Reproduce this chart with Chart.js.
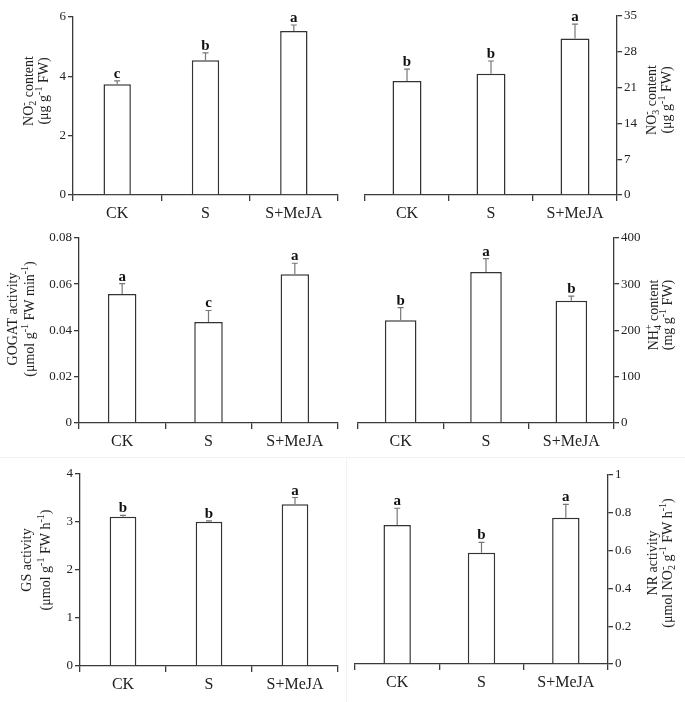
<!DOCTYPE html>
<html><head><meta charset="utf-8">
<script src="https://cdn.jsdelivr.net/npm/chart.js@4/dist/chart.umd.min.js"></script>
<style>
html,body{margin:0;padding:0;background:#fff;}
#wrap{position:relative;width:685px;height:702px;overflow:hidden;background:#fff;}
.p{position:absolute;}
.sep{position:absolute;background:#f3f3f3;}
</style></head><body>
<div id="wrap">
  <div class="sep" style="left:0;top:457px;width:685px;height:1px"></div>
  <div class="sep" style="left:346px;top:457px;width:1px;height:245px"></div>
  <div class="p" style="left:0;top:0;width:345px;height:228px"><canvas id="c1"></canvas></div>
  <div class="p" style="left:345px;top:0;width:340px;height:228px"><canvas id="c2"></canvas></div>
  <div class="p" style="left:0;top:228px;width:345px;height:229px"><canvas id="c3"></canvas></div>
  <div class="p" style="left:345px;top:228px;width:340px;height:229px"><canvas id="c4"></canvas></div>
  <div class="p" style="left:0;top:458px;width:345px;height:244px"><canvas id="c5"></canvas></div>
  <div class="p" style="left:347px;top:458px;width:338px;height:244px"><canvas id="c6"></canvas></div>
</div>
<script>
// ---------- data ----------
const categories = ['CK', 'S', 'S+MeJA'];

const no2Values = [3.73, 4.54, 5.53];
const no2Errors = [0.12, 0.25, 0.20];
const no2Letters = ['c', 'b', 'a'];
const no2Ticks = [0, 2, 4, 6];
const no2TickLabels = ['0', '2', '4', '6'];

const no3Values = [22.3, 23.7, 30.6];
const no3Errors = [2.3, 2.5, 2.8];
const no3Letters = ['b', 'b', 'a'];
const no3Ticks = [0, 7, 14, 21, 28, 35];
const no3TickLabels = ['0', '7', '14', '21', '28', '35'];

const gogatValues = [0.0557, 0.0436, 0.0643];
const gogatErrors = [0.0045, 0.0050, 0.0047];
const gogatLetters = ['a', 'c', 'a'];
const gogatTicks = [0, 0.02, 0.04, 0.06, 0.08];
const gogatTickLabels = ['0', '0.02', '0.04', '0.06', '0.08'];

const nh4Values = [222, 326, 264];
const nh4Errors = [27, 29, 10];
const nh4Letters = ['b', 'a', 'b'];
const nh4Ticks = [0, 100, 200, 300, 400];
const nh4TickLabels = ['0', '100', '200', '300', '400'];

const gsValues = [3.11, 3.005, 3.37];
const gsErrors = [0.03, 0.02, 0.14];
const gsLetters = ['b', 'b', 'a'];
const gsTicks = [0, 1, 2, 3, 4];
const gsTickLabels = ['0', '1', '2', '3', '4'];

const nrValues = [0.735, 0.589, 0.774];
const nrErrors = [0.089, 0.055, 0.071];
const nrLetters = ['a', 'b', 'a'];
const nrTicks = [0, 0.2, 0.4, 0.6, 0.8, 1];
const nrTickLabels = ['0', '0.2', '0.4', '0.6', '0.8', '1'];

// axis titles: segments [text, kind]  kind: n | sub | sup | subsup
const no2Title = [[['NO','n'],[['2','-'],'subsup'],[' content','n']], [['(\u03bcg g','n'],['-1','sup'],[' FW)','n']]];
const no3Title = [[['NO','n'],[['3','-'],'subsup'],[' content','n']], [['(\u03bcg g','n'],['-1','sup'],[' FW)','n']]];
const gogatTitle = [[['GOGAT activity','n']], [['(\u03bcmol g','n'],['-1','sup'],[' FW min','n'],['-1','sup'],[')','n']]];
const nh4Title = [[['NH','n'],[['4','+'],'subsup'],[' content','n']], [['(mg g','n'],['-1','sup'],[' FW)','n']]];
const gsTitle = [[['GS activity','n']], [['(\u03bcmol g','n'],['-1','sup'],[' FW h','n'],['-1','sup'],[')','n']]];
const nrTitle = [[['NR activity','n']], [['(\u03bcmol NO','n'],[['2','-'],'subsup'],[' g','n'],['-1','sup'],[' FW h','n'],['-1','sup'],[')','n']]];

// ---------- drawing helpers ----------
const FONT = '"Liberation Serif", "Times New Roman", serif';
const AXIS = '#3a3a3a';

function drawRich(ctx, segs, cx, cy, size) {
  const base = size + 'px ' + FONT;
  const small = Math.round(size * 0.68) + 'px ' + FONT;
  const widthOf = (s) => {
    if (s[1] === 'n') { ctx.font = base; return ctx.measureText(s[0]).width; }
    ctx.font = small;
    if (s[1] === 'subsup') return Math.max(ctx.measureText(s[0][0]).width, ctx.measureText(s[0][1]).width);
    return ctx.measureText(s[0]).width;
  };
  ctx.save();
  ctx.translate(cx, cy);
  ctx.rotate(-Math.PI / 2);
  let total = 0;
  segs.forEach(s => total += widthOf(s));
  let x = -total / 2;
  const bl = size * 0.33;
  ctx.fillStyle = '#222';
  ctx.textBaseline = 'alphabetic';
  ctx.textAlign = 'left';
  segs.forEach(s => {
    const w = widthOf(s);
    if (s[1] === 'n') { ctx.font = base; ctx.fillText(s[0], x, bl); }
    else if (s[1] === 'sup') { ctx.font = small; ctx.fillText(s[0], x, bl - size * 0.38); }
    else if (s[1] === 'sub') { ctx.font = small; ctx.fillText(s[0], x, bl + size * 0.22); }
    else { ctx.font = small; ctx.fillText(s[0][0], x, bl + size * 0.22); ctx.fillText(s[0][1], x, bl - size * 0.38); }
    x += w;
  });
  ctx.restore();
}

const extrasPlugin = {
  id: 'extras',
  afterDatasetsDraw(chart, args, opts) {
    const ctx = chart.ctx;
    const meta = chart.getDatasetMeta(0);
    const ys = chart.scales.y;
    const ds = chart.data.datasets[0];
    ctx.save();
    meta.data.forEach((bar, i) => {
      const v = ds.data[i], e = opts.errors[i];
      const yb = ys.getPixelForValue(v);
      const yt = ys.getPixelForValue(v + e);
      ctx.strokeStyle = '#777';
      ctx.lineWidth = 1.2;
      ctx.beginPath();
      ctx.moveTo(bar.x, yb); ctx.lineTo(bar.x, yt);
      ctx.moveTo(bar.x - 3, yt); ctx.lineTo(bar.x + 3, yt);
      ctx.stroke();
      ctx.fillStyle = '#111';
      ctx.font = 'bold 15px ' + FONT;
      ctx.textAlign = 'center';
      ctx.textBaseline = 'alphabetic';
      ctx.fillText(opts.letters[i], bar.x, yt - 3);
    });
    ctx.restore();
  },
  afterDraw(chart, args, opts) {
    const ctx = chart.ctx;
    drawRich(ctx, opts.title[0], opts.tx1, opts.ty, 14);
    drawRich(ctx, opts.title[1], opts.tx2, opts.ty, 14);
  }
};

// box: page box of the canvas; area: page chart area [L,T,R,B]
function makePanel(id, box, area, side, values, errors, letters, ticks, tickLabels, barPct, title, tx1, tx2, ty) {
  const [L, T, R, B] = area;
  const yWidth = side === 'left' ? L - box.x : box.x + box.w - R;
  const pad = {
    top: T - box.y,
    bottom: 0,
    left: side === 'left' ? 0 : L - box.x,
    right: side === 'left' ? box.x + box.w - R : 0
  };
  const xHeight = box.y + box.h - B;
  new Chart(document.getElementById(id), {
    type: 'bar',
    data: {
      labels: categories,
      datasets: [{
        data: values,
        backgroundColor: '#ffffff',
        borderColor: '#333333',
        borderWidth: 1.5,
        barPercentage: barPct,
        categoryPercentage: 1.0
      }]
    },
    options: {
      responsive: true,
      maintainAspectRatio: false,
      animation: false,
      devicePixelRatio: 1,
      layout: { padding: pad, autoPadding: false },
      plugins: {
        legend: { display: false },
        tooltip: { enabled: false },
        extras: { errors, letters, title, tx1: tx1 - box.x, tx2: tx2 - box.x, ty: ty - box.y }
      },
      scales: {
        x: {
          type: 'category',
          offset: true,
          afterFit: s => { s.height = xHeight; },
          grid: { display: true, drawOnChartArea: false, drawTicks: true, tickLength: 6, color: AXIS, lineWidth: 1.3, offset: true },
          border: { display: true, color: AXIS, width: 1.3 },
          ticks: { color: '#222', font: { family: FONT, size: 16 }, padding: 3, maxRotation: 0 }
        },
        y: {
          position: side,
          min: ticks[0],
          max: ticks[ticks.length - 1],
          afterFit: s => { s.width = yWidth; },
          afterBuildTicks: s => { s.ticks = ticks.map(v => ({ value: v })); },
          grid: { display: true, drawOnChartArea: false, drawTicks: true, tickLength: 5, color: AXIS, lineWidth: 1.3 },
          border: { display: true, color: AXIS, width: 1.3 },
          ticks: {
            color: '#222', font: { family: FONT, size: 13 }, padding: 2,
            callback: (v, i) => tickLabels[i]
          }
        }
      }
    },
    plugins: [extrasPlugin]
  });
}

makePanel('c1', {x:0, y:0, w:345, h:228}, [73, 17, 338, 195], 'left',
  no2Values, no2Errors, no2Letters, no2Ticks, no2TickLabels, 0.31, no2Title, 28, 43, 91);
makePanel('c2', {x:345, y:0, w:340, h:228}, [365, 16, 617, 195], 'right',
  no3Values, no3Errors, no3Letters, no3Ticks, no3TickLabels, 0.345, no3Title, 651, 666, 100);
makePanel('c3', {x:0, y:228, w:345, h:229}, [79, 237, 338, 423], 'left',
  gogatValues, gogatErrors, gogatLetters, gogatTicks, gogatTickLabels, 0.33, gogatTitle, 12, 29, 319);
makePanel('c4', {x:345, y:228, w:340, h:229}, [358, 237, 614, 423], 'right',
  nh4Values, nh4Errors, nh4Letters, nh4Ticks, nh4TickLabels, 0.37, nh4Title, 653, 667, 315);
makePanel('c5', {x:0, y:458, w:345, h:244}, [80, 474, 338, 666], 'left',
  gsValues, gsErrors, gsLetters, gsTicks, gsTickLabels, 0.31, gsTitle, 26, 45, 560);
makePanel('c6', {x:347, y:458, w:338, h:244}, [355, 475, 608, 664], 'right',
  nrValues, nrErrors, nrLetters, nrTicks, nrTickLabels, 0.325, nrTitle, 652, 667, 563);
</script>
</body></html>
